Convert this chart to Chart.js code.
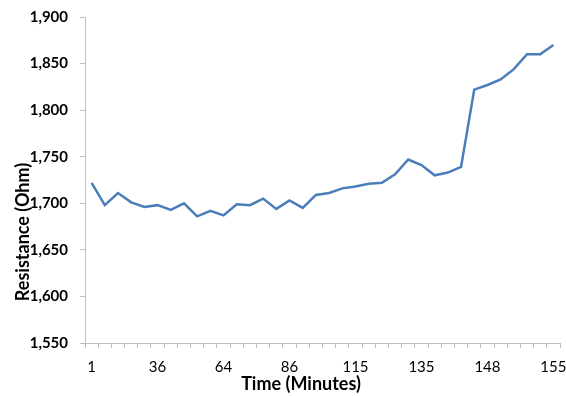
<!DOCTYPE html>
<html>
<head>
<meta charset="utf-8">
<script src="https://cdn.jsdelivr.net/npm/chart.js@4.4.1/dist/chart.umd.min.js"></script>
<style>
  html, body { margin: 0; padding: 0; background: #fff; }
  #wrap { width: 566px; height: 396px; }
</style>
</head>
<body>
<div id="wrap"><canvas id="chart" width="566" height="396"></canvas></div>
<script>
// resistance readings, one every step; only every 5th time is labelled
const tickLabels = ['1', '36', '64', '86', '115', '135', '148', '155'];
const resistance = [
  1722, 1698, 1711, 1701, 1696, 1698, 1693, 1700, 1686, 1692,
  1687, 1699, 1698, 1705, 1694, 1703, 1695, 1709, 1711, 1716,
  1718, 1721, 1722, 1731, 1747, 1741, 1730, 1733, 1739, 1822,
  1827, 1833, 1844, 1860, 1860, 1870
];
const yTicks = { min: 1550, max: 1900, step: 50 };

const labels = resistance.map((v, i) => (i % 5 === 0 ? tickLabels[i / 5] : ''));

const axisGrey = '#bfbfbf';
const font = 'Lato, "Open Sans", sans-serif';

// axis titles are placed off-centre, like the original, so draw them by hand
const axisTitles = {
  id: 'axisTitles',
  afterDraw(chart) {
    const ctx = chart.ctx;
    ctx.save();
    ctx.font = 'bold 18px ' + font;
    ctx.fillStyle = '#000';
    ctx.textAlign = 'center';
    ctx.textBaseline = 'middle';
    ctx.fillText('Time (Minutes)', 301, 384);
    ctx.translate(23, 232);
    ctx.rotate(-Math.PI / 2);
    ctx.fillText('Resistance (Ohm)', 0, 0);
    ctx.restore();
  }
};

new Chart(document.getElementById('chart'), {
  type: 'line',
  data: {
    labels: labels,
    datasets: [{
      data: resistance,
      borderColor: '#4a7ebb',
      borderWidth: 2.5,
      pointRadius: 0,
      tension: 0,
      fill: false
    }]
  },
  options: {
    responsive: false,
    animation: false,
    layout: { padding: { top: 17, right: 6, left: 0, bottom: 0 } },
    plugins: { legend: { display: false }, tooltip: { enabled: false } },
    scales: {
      x: {
        type: 'category',
        offset: true,
        grid: { offset: true, drawOnChartArea: false, drawTicks: true, tickLength: 5, color: axisGrey },
        border: { color: axisGrey, width: 1 },
        ticks: { autoSkip: false, maxRotation: 0, color: '#000', font: { family: font, size: 15 }, padding: 10 },
        afterFit(scale) {
          scale.height = 53;
          scale.paddingLeft = 0;
          scale.paddingRight = 0;
        }
      },
      y: {
        min: yTicks.min,
        max: yTicks.max,
        grid: { drawOnChartArea: false, drawTicks: true, tickLength: 5, color: axisGrey },
        border: { color: axisGrey, width: 1 },
        ticks: {
          stepSize: yTicks.step,
          color: '#000',
          padding: 12,
          font: { family: font, size: 15, weight: 'bold' },
          callback: v => v.toLocaleString('en-US')
        },
        afterFit(scale) {
          scale.width = 85;
          scale.paddingTop = 0;
          scale.paddingBottom = 0;
        }
      }
    }
  },
  plugins: [axisTitles]
});
</script>
</body>
</html>
